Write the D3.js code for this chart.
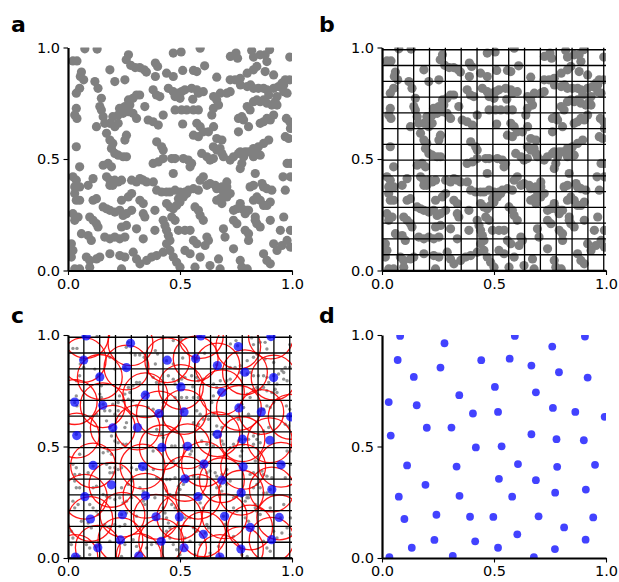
<!DOCTYPE html>
<html>
<head>
<meta charset="utf-8">
<script src="https://cdn.jsdelivr.net/npm/d3@7"></script>
<style>
  html, body { margin: 0; padding: 0; background: #fff; }
  svg { display: block; }
  text { font-family: "DejaVu Sans", sans-serif; }
</style>
</head>
<body>
<svg id="chart" width="619" height="582"></svg>
<script>
// Uniform random candidate points (panels a, b, c)
const grayPoints = [
  [0.075,0.994],[0.13,0.993],[0.022,0.94],[0.04,0.94],[0.27,0.967],[0.26,0.945],[0.28,0.92],[0.30,0.91],[0.32,0.91],[0.34,0.90],[0.39,0.93],[0.40,0.915],[0.47,0.975],[0.505,0.98],[0.59,0.997],[0.61,0.918],[0.725,0.96],[0.75,0.975],[0.757,0.952],[0.82,0.987],[0.828,0.957],[0.858,0.967],[0.88,0.967],[0.9,0.99],[0.888,0.937],[0.99,0.957],
  [0.06,0.89],[0.055,0.87],[0.07,0.855],[0.12,0.847],[0.134,0.817],[0.187,0.9],[0.209,0.847],[0.254,0.855],[0.35,0.89],[0.39,0.87],[0.44,0.885],[0.47,0.87],[0.512,0.897],[0.56,0.897],[0.575,0.892],[0.664,0.867],[0.724,0.855],[0.746,0.855],[0.769,0.862],[0.8,0.885],[0.828,0.9],[0.843,0.915],[0.88,0.892],[0.918,0.877],[0.97,0.855],[0.99,0.855],[0.955,0.84],
  [0.037,0.795],[0.052,0.817],[0.149,0.772],[0.142,0.735],[0.27,0.765],[0.29,0.772],[0.306,0.787],[0.23,0.727],[0.254,0.735],[0.276,0.742],[0.32,0.787],[0.38,0.81],[0.395,0.787],[0.41,0.78],[0.448,0.817],[0.47,0.802],[0.493,0.795],[0.507,0.802],[0.522,0.81],[0.478,0.78],[0.5,0.772],[0.552,0.817],[0.575,0.81],[0.582,0.795],[0.557,0.768],[0.604,0.802],[0.65,0.78],[0.664,0.765],[0.68,0.795],[0.709,0.795],[0.724,0.802],[0.77,0.832],[0.8,0.825],[0.815,0.832],[0.828,0.817],[0.85,0.817],[0.873,0.817],[0.888,0.81],[0.918,0.817],[0.94,0.825],[0.963,0.832],[0.896,0.787],[0.933,0.78],[0.963,0.802],[0.978,0.795],[0.843,0.765],[0.858,0.757],[0.873,0.765],[0.888,0.75],[0.91,0.742],[0.8,0.735],[0.813,0.72],[0.828,0.757],[0.925,0.757],[0.933,0.742],
  [0.037,0.727],[0.03,0.697],[0.04,0.682],[0.127,0.645],[0.149,0.72],[0.157,0.69],[0.164,0.66],[0.2,0.69],[0.224,0.697],[0.246,0.705],[0.269,0.712],[0.29,0.705],[0.187,0.66],[0.209,0.645],[0.224,0.66],[0.306,0.682],[0.343,0.735],[0.358,0.675],[0.38,0.667],[0.403,0.652],[0.425,0.697],[0.478,0.72],[0.507,0.72],[0.53,0.72],[0.56,0.72],[0.582,0.72],[0.512,0.657],[0.575,0.66],[0.59,0.645],[0.604,0.622],[0.627,0.622],[0.65,0.645],[0.56,0.607],[0.582,0.6],[0.642,0.697],[0.649,0.727],[0.672,0.742],[0.761,0.682],[0.776,0.69],[0.784,0.675],[0.761,0.622],[0.806,0.645],[0.858,0.66],[0.873,0.667],[0.888,0.682],[0.903,0.675],[0.975,0.682],[0.99,0.667],[0.918,0.697],[0.97,0.6],[0.985,0.592],[0.993,0.637],
  [0.037,0.555],[0.172,0.615],[0.187,0.585],[0.2,0.57],[0.261,0.607],[0.254,0.585],[0.194,0.547],[0.209,0.525],[0.224,0.517],[0.246,0.51],[0.261,0.51],[0.157,0.472],[0.179,0.48],[0.194,0.465],[0.052,0.465],[0.396,0.577],[0.418,0.555],[0.425,0.54],[0.38,0.48],[0.403,0.487],[0.425,0.502],[0.463,0.502],[0.478,0.502],[0.515,0.502],[0.537,0.495],[0.552,0.48],[0.545,0.465],[0.47,0.435],[0.597,0.525],[0.62,0.51],[0.634,0.495],[0.649,0.502],[0.649,0.555],[0.664,0.54],[0.679,0.547],[0.687,0.525],[0.694,0.51],[0.664,0.592],[0.687,0.585],[0.724,0.495],[0.739,0.51],[0.761,0.525],[0.769,0.532],[0.791,0.532],[0.806,0.532],[0.784,0.51],[0.776,0.48],[0.769,0.457],[0.828,0.547],[0.843,0.532],[0.85,0.555],[0.896,0.585],[0.873,0.57],[0.828,0.51],[0.858,0.517],[0.978,0.48],[0.993,0.48],
  [0.022,0.42],[0.037,0.405],[0.03,0.375],[0.052,0.375],[0.09,0.382],[0.112,0.412],[0.172,0.42],[0.187,0.405],[0.209,0.405],[0.224,0.397],[0.239,0.405],[0.2,0.382],[0.187,0.382],[0.284,0.405],[0.306,0.397],[0.321,0.412],[0.336,0.405],[0.351,0.397],[0.381,0.397],[0.396,0.36],[0.418,0.352],[0.44,0.352],[0.455,0.352],[0.478,0.36],[0.5,0.352],[0.522,0.352],[0.537,0.36],[0.56,0.367],[0.582,0.36],[0.59,0.405],[0.604,0.42],[0.62,0.382],[0.634,0.39],[0.657,0.382],[0.664,0.367],[0.687,0.375],[0.694,0.352],[0.709,0.375],[0.709,0.397],[0.813,0.375],[0.828,0.382],[0.866,0.39],[0.873,0.375],[0.888,0.367],[0.91,0.36],[0.96,0.42],[0.993,0.42],[0.97,0.36],[0.836,0.435],
  [0.03,0.345],[0.037,0.315],[0.052,0.315],[0.112,0.315],[0.127,0.322],[0.157,0.285],[0.172,0.277],[0.187,0.27],[0.209,0.262],[0.231,0.27],[0.246,0.247],[0.261,0.255],[0.284,0.27],[0.239,0.315],[0.269,0.33],[0.284,0.345],[0.321,0.315],[0.336,0.3],[0.336,0.255],[0.343,0.24],[0.388,0.27],[0.44,0.3],[0.455,0.285],[0.47,0.277],[0.485,0.292],[0.5,0.307],[0.493,0.322],[0.515,0.33],[0.53,0.345],[0.567,0.285],[0.582,0.27],[0.59,0.247],[0.604,0.225],[0.664,0.315],[0.679,0.322],[0.687,0.3],[0.709,0.33],[0.724,0.345],[0.739,0.27],[0.754,0.277],[0.769,0.3],[0.776,0.277],[0.791,0.255],[0.799,0.27],[0.828,0.315],[0.843,0.33],[0.858,0.315],[0.873,0.292],[0.888,0.292],[0.903,0.307],[0.806,0.27],[0.963,0.24],[0.836,0.225],
  [0.022,0.255],[0.03,0.225],[0.045,0.24],[0.097,0.24],[0.112,0.225],[0.127,0.21],[0.134,0.195],[0.06,0.165],[0.09,0.157],[0.104,0.135],[0.164,0.15],[0.187,0.142],[0.209,0.15],[0.231,0.142],[0.254,0.15],[0.239,0.195],[0.261,0.202],[0.306,0.187],[0.336,0.142],[0.388,0.18],[0.425,0.225],[0.433,0.202],[0.44,0.18],[0.448,0.157],[0.455,0.135],[0.463,0.24],[0.478,0.225],[0.493,0.18],[0.522,0.18],[0.545,0.18],[0.56,0.135],[0.575,0.12],[0.62,0.15],[0.627,0.135],[0.612,0.112],[0.694,0.187],[0.701,0.15],[0.739,0.225],[0.754,0.21],[0.791,0.18],[0.806,0.165],[0.836,0.24],[0.843,0.21],[0.858,0.195],[0.903,0.225],[0.948,0.18],[0.993,0.18],[0.806,0.135],
  [0.015,0.12],[0.022,0.09],[0.015,0.06],[0.082,0.06],[0.097,0.045],[0.127,0.052],[0.142,0.06],[0.03,0.007],[0.052,0.007],[0.097,0.015],[0.187,0.075],[0.231,0.067],[0.254,0.06],[0.291,0.082],[0.306,0.052],[0.321,0.03],[0.239,0.007],[0.351,0.045],[0.373,0.06],[0.396,0.067],[0.425,0.082],[0.44,0.12],[0.455,0.09],[0.47,0.06],[0.485,0.037],[0.5,0.015],[0.522,0.09],[0.545,0.075],[0.567,0.015],[0.59,0.06],[0.634,0.022],[0.672,0.052],[0.679,0.007],[0.739,0.097],[0.769,0.045],[0.776,0.015],[0.873,0.075],[0.888,0.045],[0.903,0.03],[0.918,0.12],[0.933,0.09],[0.955,0.112],[0.993,0.105],[0.978,0.135],[0.8,0.007]
];

// Accepted samples (panels c, d)
const samplePoints = [
  [0.081,0.996],[0.279,0.963],[0.593,0.996],[0.906,0.993],[0.76,0.948],[0.07,0.888],[0.443,0.887],[0.57,0.894],[0.667,0.863],[0.261,0.854],
  [0.79,0.833],[0.142,0.812],[0.918,0.809],[0.504,0.767],[0.687,0.743],[0.345,0.73],[0.03,0.699],[0.155,0.685],[0.763,0.673],[0.406,0.648],
  [0.518,0.655],[0.863,0.655],[0.994,0.633],[0.2,0.584],[0.31,0.585],[0.667,0.555],[0.039,0.549],[0.779,0.533],[0.901,0.528],[0.419,0.496],
  [0.534,0.501],[0.112,0.415],[0.333,0.41],[0.607,0.421],[0.782,0.409],[0.951,0.418],[0.194,0.328],[0.522,0.355],[0.687,0.349],[0.075,0.275],
  [0.346,0.279],[0.581,0.275],[0.773,0.293],[0.91,0.307],[0.1,0.175],[0.243,0.194],[0.393,0.185],[0.497,0.184],[0.699,0.187],[0.943,0.182],
  [0.813,0.137],[0.604,0.106],[0.234,0.081],[0.416,0.075],[0.909,0.082],[0.133,0.046],[0.518,0.046],[0.772,0.04],[0.033,0.004],[0.316,0.009],
  [0.678,0.004]
];

// Background grid cell boundaries (cell size r / sqrt(2))
const gridLines = [0, 0.0707, 0.1414, 0.2121, 0.2828, 0.3536, 0.4243, 0.4950, 0.5657, 0.6364, 0.7071, 0.7778, 0.8485, 0.9192, 0.9899];
const minDistance = 0.1;

const tickValues = [0, 0.5, 1];
const tickLabels = ["0.0", "0.5", "1.0"];
const panelLetters = ["a", "b", "c", "d"];

const svg = d3.select("#chart");
const defs = svg.append("defs");

const panels = [
  { letter: panelLetters[0], left: 68, top: 47.5, lx: 11, ly: 32 },
  { letter: panelLetters[1], left: 382, top: 47.5, lx: 319, ly: 32 },
  { letter: panelLetters[2], left: 68, top: 335, lx: 11, ly: 323 },
  { letter: panelLetters[3], left: 382, top: 335, lx: 319, ly: 323 }
];
const W = 224, H = 223;

panels.forEach((p, i) => {
  svg.append("text")
    .attr("x", p.lx).attr("y", p.ly)
    .attr("font-size", 22).attr("font-weight", "bold")
    .text(p.letter);

  const g = svg.append("g").attr("transform", `translate(${p.left},${p.top})`);
  const x = d3.scaleLinear().domain([0, 1]).range([0, W]);
  const y = d3.scaleLinear().domain([0, 1]).range([H, 0]);

  const clipId = "clip" + i;
  defs.append("clipPath").attr("id", clipId)
    .append("rect").attr("x", 0).attr("y", 0).attr("width", W).attr("height", H);
  const plot = g.append("g").attr("clip-path", `url(#${clipId})`);

  const drawGrid = () => {
    const gg = plot.append("g").attr("stroke", "#000").attr("stroke-width", 1.3);
    gg.selectAll("line.v").data(gridLines).join("line").attr("class", "v")
      .attr("x1", d => x(d)).attr("x2", d => x(d)).attr("y1", y(0)).attr("y2", y(1));
    gg.selectAll("line.h").data(gridLines).join("line").attr("class", "h")
      .attr("y1", d => y(d)).attr("y2", d => y(d)).attr("x1", x(0)).attr("x2", x(1));
  };

  if (i === 0 || i === 1) {
    plot.append("g").selectAll("circle").data(grayPoints).join("circle")
      .attr("cx", d => x(d[0])).attr("cy", d => y(d[1])).attr("r", 4.6)
      .attr("fill", "#808080");
    if (i === 1) drawGrid();
  } else if (i === 2) {
    plot.append("g").selectAll("circle").data(grayPoints).join("circle")
      .attr("cx", d => x(d[0])).attr("cy", d => y(d[1])).attr("r", 1.7)
      .attr("fill", "#808080").attr("fill-opacity", 0.85);
    plot.append("g").selectAll("circle").data(samplePoints).join("circle")
      .attr("cx", d => x(d[0])).attr("cy", d => y(d[1]))
      .attr("r", x(minDistance) - x(0))
      .attr("fill", "none").attr("stroke", "red").attr("stroke-opacity", 0.9).attr("stroke-width", 1.3);
    drawGrid();
    plot.append("g").selectAll("circle").data(samplePoints).join("circle")
      .attr("cx", d => x(d[0])).attr("cy", d => y(d[1])).attr("r", 4.6)
      .attr("fill", "#0000ff").attr("fill-opacity", 0.72);
  } else {
    plot.append("g").selectAll("circle").data(samplePoints).join("circle")
      .attr("cx", d => x(d[0])).attr("cy", d => y(d[1])).attr("r", 3.9)
      .attr("fill", "#0000ff").attr("fill-opacity", 0.74);
  }

  const fmt = (d) => tickLabels[tickValues.indexOf(d)];
  const yAxis = g.append("g")
    .call(d3.axisLeft(y).tickValues(tickValues).tickFormat(fmt).tickSize(4.5).tickSizeOuter(0).tickPadding(3.5));
  const xAxis = g.append("g").attr("transform", `translate(0,${H})`)
    .call(d3.axisBottom(x).tickValues(tickValues).tickFormat(fmt).tickSize(4.5).tickSizeOuter(0).tickPadding(3.5));
  [yAxis, xAxis].forEach(ax => {
    ax.select(".domain").attr("stroke", "#000").attr("stroke-width", 2.2);
    ax.selectAll(".tick line").attr("stroke", "#000").attr("stroke-width", 1.1);
    ax.selectAll(".tick text").attr("font-size", 14.5).attr("fill", "#000")
      .attr("font-family", "DejaVu Sans, sans-serif");
  });
});
</script>
</body>
</html>
